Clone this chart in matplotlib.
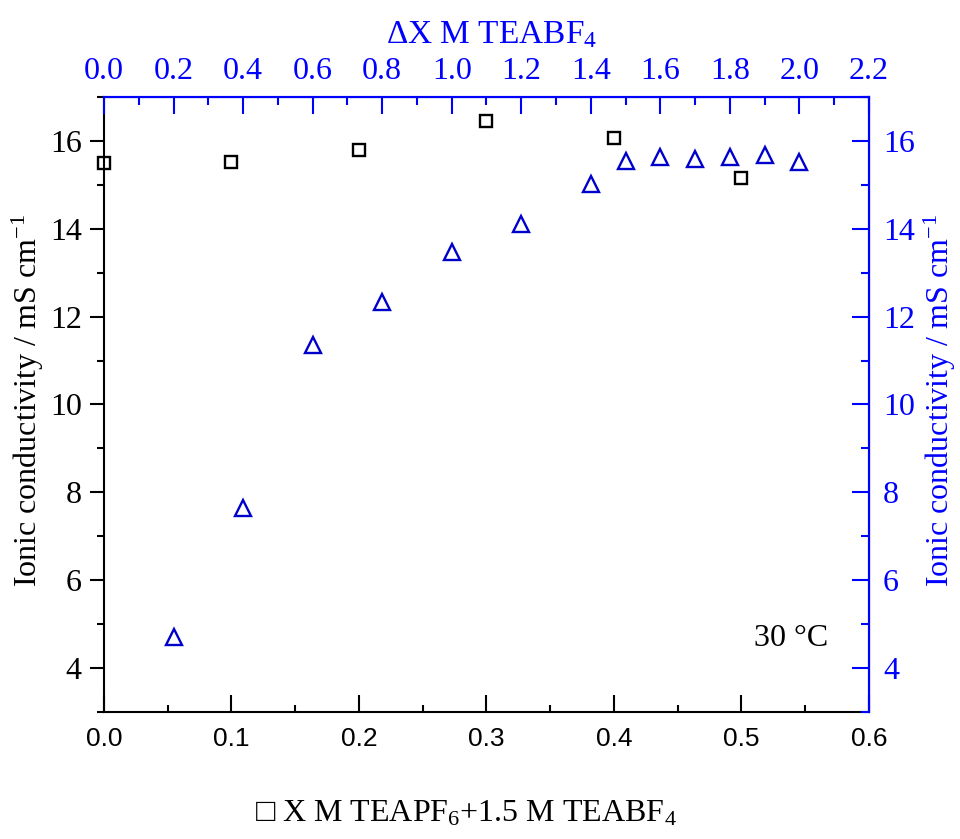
import matplotlib
matplotlib.use("Agg")
import matplotlib.pyplot as plt
from matplotlib.ticker import MultipleLocator

# X M TEAPF6 + 1.5 M TEABF4 (bottom axis)
pf6_conc = [0.0, 0.1, 0.2, 0.3, 0.4, 0.5]
pf6_sigma = [15.50, 15.52, 15.80, 16.46, 16.07, 15.16]

# X M TEABF4 (top axis)
bf4_conc = [0.2, 0.4, 0.6, 0.8, 1.0, 1.2, 1.4, 1.5, 1.6, 1.7, 1.8, 1.9, 2.0]
bf4_sigma = [4.70, 7.64, 11.36, 12.33, 13.48, 14.11, 15.02, 15.54,
             15.64, 15.58, 15.64, 15.68, 15.52]

bottom_ticks = [0.0, 0.1, 0.2, 0.3, 0.4, 0.5, 0.6]
top_ticks = [0.0, 0.2, 0.4, 0.6, 0.8, 1.0, 1.2, 1.4, 1.6, 1.8, 2.0, 2.2]
y_ticks = [4, 6, 8, 10, 12, 14, 16]

BLUE = "#0000ff"
MARK_BLUE = "#0000cc"

SERIF = ["Liberation Serif", "DejaVu Serif"]
plt.rcParams["font.family"] = SERIF
plt.rcParams["mathtext.fontset"] = "custom"
plt.rcParams["mathtext.rm"] = "Liberation Serif"
plt.rcParams["mathtext.it"] = "Liberation Serif"

fig = plt.figure(figsize=(9.6, 8.39), dpi=100)
ax = fig.add_axes([0.1083, 0.1514, 0.7969, 0.7330])
ax_top = ax.twiny()
ax_right = ax_top.twinx()

ax.plot(pf6_conc, pf6_sigma, linestyle="none", marker="s", markersize=8.5,
        markerfacecolor="none", markeredgecolor="black", markeredgewidth=1.7,
        clip_on=False, zorder=5)
ax_right.plot(bf4_conc, bf4_sigma, linestyle="none", marker="^", markersize=11.5,
              markerfacecolor="none", markeredgecolor=MARK_BLUE, markeredgewidth=1.7,
              clip_on=False, zorder=5)

ax.set_xlim(0, 0.6)
ax_top.set_xlim(0, 2.2)
ax.set_ylim(3, 17)
ax_right.set_ylim(3, 17)

tick_fs = 23
label_fs = 23

# bottom axis: black, sans-serif tick labels, inward ticks
ax.set_xticks(bottom_ticks)
ax.set_xticklabels([f"{v:.1f}" for v in bottom_ticks], family="Liberation Sans",
                   fontsize=19)
ax.xaxis.set_minor_locator(MultipleLocator(0.05))
ax.tick_params(axis="x", which="major", direction="in", length=12, width=1.5, pad=11)
ax.tick_params(axis="x", which="minor", direction="in", length=5, width=1.5)

# left axis: black, outward ticks
ax.set_yticks(y_ticks)
ax.yaxis.set_minor_locator(MultipleLocator(1))
ax.tick_params(axis="y", which="major", direction="out", length=10, width=1.5,
               labelsize=tick_fs, pad=6)
ax.tick_params(axis="y", which="minor", direction="out", length=5, width=1.5)
ax.spines["left"].set_linewidth(1.5)
ax.spines["bottom"].set_linewidth(1.5)

# top axis: blue, inward ticks
ax_top.set_xticks(top_ticks)
ax_top.set_xticklabels([f"{v:.1f}" for v in top_ticks])
ax_top.xaxis.set_minor_locator(MultipleLocator(0.1))
ax_top.tick_params(axis="x", which="major", direction="in", length=12, width=1.5,
                   labelsize=tick_fs, colors=BLUE, pad=8)
ax_top.tick_params(axis="x", which="minor", direction="in", length=6, width=1.5,
                   colors=BLUE)

# right axis: blue, inward ticks
ax_right.set_yticks(y_ticks)
ax_right.yaxis.set_minor_locator(MultipleLocator(1))
ax_right.tick_params(axis="y", which="major", direction="in", length=12, width=1.5,
                     labelsize=tick_fs, colors=BLUE, pad=10)
ax_right.tick_params(axis="y", which="minor", direction="in", length=6, width=1.5,
                     colors=BLUE)

for a in (ax_top, ax_right):
    a.spines["top"].set_color(BLUE)
    a.spines["right"].set_color(BLUE)
    a.spines["top"].set_linewidth(1.5)
    a.spines["right"].set_linewidth(1.5)
    a.spines["left"].set_visible(False)
    a.spines["bottom"].set_visible(False)

# axis titles
ylabel = "Ionic conductivity / mS cm$^{-1}$"
fig.text(0.029, 0.523, ylabel, fontsize=label_fs, rotation=90,
         ha="center", va="center")
fig.text(0.979, 0.523, ylabel, fontsize=label_fs, rotation=90,
         ha="center", va="center", color=BLUE)
fig.text(0.5125, 1 - 43 / 839, "\u0394X M TEABF$_4$", fontsize=24,
         ha="center", va="baseline", color=BLUE)
fig.text(0.485, 1 - 822 / 839, "\u25a1 X M TEAPF$_6$+1.5 M TEABF$_4$",
         fontsize=label_fs, ha="center", va="baseline")

ax.text(0.539, 4.68, "30 \u00b0C", fontsize=23, ha="center", va="center")

fig.savefig("out.png", dpi=100)
